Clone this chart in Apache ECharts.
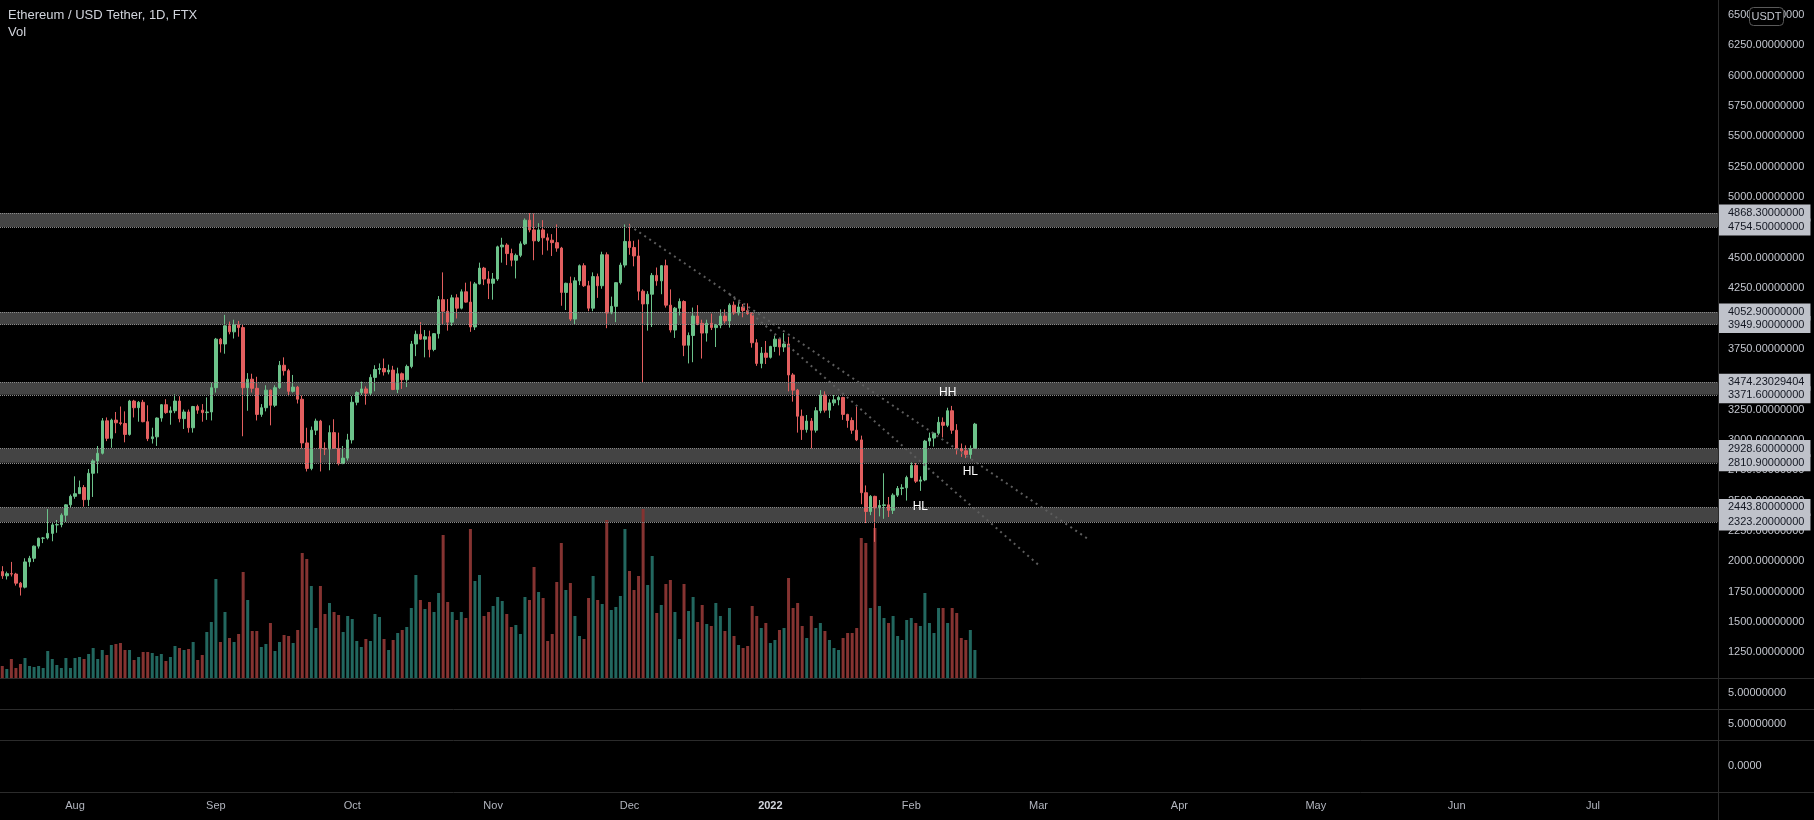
<!DOCTYPE html>
<html><head><meta charset="utf-8">
<script src="https://cdn.jsdelivr.net/npm/echarts@6/dist/echarts.min.js"></script>
<style>html,body{margin:0;padding:0;background:#000;overflow:hidden}#c{width:1814px;height:820px}</style>
</head><body><div id="c"></div>
<script>
// ---- data ----
const startDay = '2021-07-16';
const dayCount = 378;
const monthLabels = ['2022','Feb','Mar','Apr','May','Jun','Jul','Aug','Sep','Oct','Nov','Dec'];
// [open, high, low, close] from 2021-07-16 daily
const candles = [
[1915,1960,1855,1880],[1880,1915,1850,1898],[1898,1995,1875,1895],[1895,1905,1800,1820],[1820,1830,1718,1787],
[1787,2025,1777,1995],[1995,2045,1955,2025],[2025,2130,1995,2125],[2125,2195,2105,2190],[2190,2200,2150,2192],
[2192,2430,2180,2230],[2230,2315,2165,2300],[2300,2340,2235,2302],[2302,2395,2280,2380],[2380,2470,2325,2465],
[2465,2550,2440,2535],[2535,2700,2515,2557],[2557,2665,2555,2608],[2608,2628,2450,2508],[2508,2760,2455,2725],
[2725,2840,2530,2827],[2827,2950,2725,2890],[2890,3180,2880,3157],[3157,3185,2990,3013],[3013,3175,2935,3163],
[3163,3230,3055,3141],[3141,3275,3120,3135],[3135,3235,2980,3045],[3045,3330,3035,3320],[3320,3330,3185,3265],
[3265,3320,3150,3310],[3310,3330,3145,3150],[3150,3285,2990,3010],[3010,3100,2970,3025],[3025,3185,2950,3180],
[3180,3295,3150,3290],[3290,3335,3215,3225],[3225,3275,3125,3240],[3240,3375,3220,3320],[3320,3360,3145,3175],
[3175,3250,3090,3230],[3230,3250,3060,3100],[3100,3280,3060,3275],[3275,3290,3215,3245],[3245,3295,3150,3225],
[3225,3350,3165,3230],[3230,3470,3160,3430],[3430,3840,3390,3830],[3830,3840,3720,3790],[3790,4030,3710,3940],
[3940,3975,3870,3890],[3890,3990,3835,3950],[3950,3980,3850,3925],[3925,3950,3030,3430],[3430,3550,3240,3500],
[3500,3545,3390,3425],[3425,3520,3160,3210],[3210,3295,3190,3265],[3265,3450,3235,3410],[3410,3415,3120,3285],
[3285,3450,3270,3430],[3430,3650,3420,3615],[3615,3680,3530,3570],[3570,3585,3360,3400],[3400,3535,3390,3435],
[3435,3445,3300,3335],[3335,3365,2930,2975],[2975,3100,2740,2765],[2765,3110,2750,3080],[3080,3175,3040,3155],
[3155,3165,2740,2930],[2930,2980,2875,2925],[2925,3120,2750,3060],[3060,3170,2925,2930],[2930,3060,2790,2805],
[2805,2950,2800,2850],[2850,3050,2830,3000],[3000,3360,2970,3310],[3310,3400,3285,3390],[3390,3480,3370,3420],
[3420,3440,3290,3385],[3385,3540,3370,3515],[3515,3615,3400,3580],[3580,3630,3540,3588],[3588,3670,3530,3560],
[3560,3620,3540,3575],[3575,3610,3410,3415],[3415,3595,3385,3545],[3545,3555,3420,3495],[3495,3620,3435,3605],
[3605,3815,3590,3790],[3790,3900,3690,3870],[3870,3970,3825,3830],[3830,3905,3680,3850],[3850,3900,3680,3745],
[3745,3880,3730,3875],[3875,4185,3835,4155],[4155,4380,3950,4060],[4060,4160,3900,3970],[3970,4195,3940,4170],
[4170,4200,4000,4085],[4085,4240,4075,4220],[4220,4295,4130,4135],[4135,4305,3890,3930],[3930,4300,3905,4285],
[4285,4460,4280,4415],[4415,4425,4275,4325],[4325,4390,4160,4290],[4290,4375,4155,4325],[4325,4600,4310,4590],
[4590,4665,4460,4605],[4605,4620,4440,4535],[4535,4575,4430,4480],[4480,4535,4330,4520],[4520,4635,4505,4615],
[4615,4825,4605,4810],[4810,4868,4710,4730],[4730,4865,4480,4640],[4640,4785,4630,4730],[4730,4810,4525,4665],
[4665,4700,4560,4645],[4645,4695,4515,4625],[4625,4775,4550,4580],[4580,4590,4105,4215],[4215,4295,4070,4290],
[4290,4345,3980,3995],[3995,4340,3955,4310],[4310,4445,4275,4435],[4435,4455,4260,4270],[4270,4310,4060,4085],
[4085,4380,4060,4345],[4345,4370,4170,4270],[4270,4550,4245,4525],[4525,4545,3920,4045],[4045,4180,4035,4100],
[4100,4300,3970,4295],[4295,4460,4280,4440],[4440,4775,4420,4635],[4635,4780,4525,4585],[4585,4640,4430,4515],
[4515,4650,4150,4225],[4225,4240,3470,4120],[4120,4225,3900,4200],[4200,4375,3930,4355],[4355,4420,4270,4310],
[4310,4440,4200,4435],[4435,4485,4090,4110],[4110,4240,3885,3905],[3905,4095,3840,4085],[4085,4165,4025,4140],
[4140,4150,3690,3780],[3780,3885,3630,3860],[3860,4090,3640,4020],[4020,4110,3945,3960],[3960,3990,3670,3880],
[3880,3990,3810,3960],[3960,4040,3905,3925],[3925,3955,3765,3945],[3945,4075,3920,4020],[4020,4075,3960,3980],
[3980,4125,3925,4110],[4110,4140,4030,4045],[4045,4140,4025,4095],[4095,4120,4010,4065],[4065,4125,4030,4040],
[4040,4050,3760,3800],[3800,3830,3610,3630],[3630,3765,3590,3715],[3715,3815,3625,3680],[3680,3775,3670,3770],
[3770,3860,3725,3830],[3830,3840,3695,3765],[3765,3880,3725,3790],[3790,3850,3400,3535],[3535,3550,3315,3410],
[3410,3420,3060,3195],[3195,3250,3000,3085],[3085,3205,3060,3155],[3155,3180,2930,3080],[3080,3270,3060,3240],
[3240,3410,3220,3370],[3370,3400,3225,3245],[3245,3335,3180,3305],[3305,3370,3280,3330],[3330,3365,3285,3350],
[3350,3355,3165,3210],[3210,3215,3100,3160],[3160,3185,3050,3080],[3080,3275,2990,3000],[3000,3035,2470,2565],
[2565,2625,2315,2410],[2410,2545,2380,2535],[2535,2540,2160,2440],[2440,2505,2370,2460],[2460,2725,2350,2465],
[2465,2530,2365,2420],[2420,2560,2390,2545],[2545,2620,2530,2600],[2600,2635,2545,2605],[2605,2705,2500,2690],
[2690,2815,2685,2790],[2790,2810,2645,2660],[2660,2700,2580,2670],[2670,3000,2660,2990],[2990,3060,2950,3015],
[3015,3060,2945,3055],[3055,3190,3040,3145],[3145,3185,3020,3120],[3120,3265,3105,3240],[3240,3280,3050,3080],
[3080,3130,2880,2925],[2925,2970,2860,2910],[2910,2955,2850,2880],[2880,2955,2845,2930],[2930,3140,2925,3130]
];
const volumes = [
12,9,19,10,14,20,12,11,12,10,27,19,13,10,20,10,20,21,19,24,30,19,28,23,33,34,35,28,28,18,21,26,26,25,22,24,17,21,32,30,28,29,36,18,23,46,56,99,36,66,40,36,44,106,78,
47,47,31,34,55,27,36,43,42,35,48,125,119,92,50,92,64,75,66,63,46,62,59,37,31,39,37,64,61,39,28,38,45,48,51,70,103,78,69,76,66,85,143,76,66,58,66,60,149,97,103,62,66,72,81,
77,64,51,53,44,81,78,111,86,80,37,44,96,135,88,95,62,42,39,80,102,78,74,158,68,71,82,149,107,88,102,169,93,122,65,73,94,98,66,39,94,67,81,56,73,54,52,75,62,47,70,42,33,30,32,
72,62,50,55,35,38,48,50,100,70,75,52,40,62,50,55,47,38,30,28,40,45,45,50,140,135,70,150,72,60,55,62,42,38,58,60,55,52,85,55,45,70,70,55,70,65,40,38,48,28
];
// support / resistance zones [low, high, lowLabel, highLabel]
const zones = [
[4754.5, 4868.3, '4754.50000000', '4868.30000000'],
[3949.9, 4052.9, '3949.90000000', '4052.90000000'],
[3371.6, 3474.23029404, '3371.60000000', '3474.23029404'],
[2810.9, 2928.6, '2810.90000000', '2928.60000000'],
[2323.2, 2443.8, '2323.20000000', '2443.80000000']
];
// trend lines [startDate, startPrice, endDate, endPrice]
const trendLines = [
['2021-12-01', 4765, '2022-03-12', 2181],
['2021-12-23', 4200, '2022-03-01', 1970]
];
// annotations [date, price, text]
const notes = [
['2022-02-09', 3386, 'HH'],
['2022-02-03', 2447, 'HL'],
['2022-02-14', 2736, 'HL']
];
const paneLabels = ['5.00000000', '5.00000000', '0.0000'];

// ---- build ----
const dates = [];
const t0 = Date.parse(startDay + 'T00:00:00Z');
for (let i = 0; i < dayCount; i++) dates.push(new Date(t0 + i * 86400000).toISOString().slice(0, 10));

const UP = '#6cc28a', DOWN = '#e35f5f', VUP = '#22675f', VDOWN = '#853331';
const AX = '#c3c6ce', LINE = '#2b2b2b';
const FONT = '"Liberation Sans", Arial, sans-serif';

const markLines = [];
zones.forEach(z => {
  [[z[1], z[3]], [z[0], z[2]]].forEach(([v, txt]) => {
    markLines.push({
      yAxis: v,
      lineStyle: { type: 'dotted', color: '#8a8a8a', width: 1 },
      label: { show: true, position: 'end', distance: 0, formatter: txt, color: '#131722',
        backgroundColor: '#bfc2ca', padding: [2, 6, 2, 10], fontSize: 11, lineHeight: 13, fontFamily: FONT }
    });
  });
});
trendLines.forEach(t => {
  markLines.push([
    { coord: [t[0], t[1]], lineStyle: { type: [2, 4], color: '#5c5c5c', width: 2 }, label: { show: false } },
    { coord: [t[2], t[3]] }
  ]);
});

const chart = echarts.init(document.getElementById('c'), null, { renderer: 'canvas' });
const xBase = { type: 'category', data: dates, boundaryGap: true, axisLine: { show: false }, axisTick: { show: false }, splitLine: { show: false } };

chart.setOption({
  backgroundColor: '#000000',
  animation: false,
  grid: [
    { left: 0, right: 96, top: -15.35, height: 698.05, outerBoundsMode: 'none', containLabel: false },
    { left: 0, right: 96, top: 509, height: 169, outerBoundsMode: 'none', containLabel: false },
    { left: 0, right: 96, top: 740, height: 52, outerBoundsMode: 'none', containLabel: false }
  ],
  xAxis: [
    Object.assign({}, xBase, { gridIndex: 0, axisLabel: { show: false } }),
    Object.assign({}, xBase, { gridIndex: 1, axisLabel: { show: false } }),
    Object.assign({}, xBase, { gridIndex: 2, axisLabel: {
      show: true, interval: (i, v) => v.slice(8) === '01', margin: 8,
      color: '#b2b5be', fontSize: 11, fontFamily: FONT,
      formatter: v => { const m = +v.slice(5, 7); return m === 1 ? '{b|' + monthLabels[0] + '}' : monthLabels[m - 1]; },
      rich: { b: { fontWeight: 'bold', color: '#d1d4dc', fontSize: 11, fontFamily: FONT } }
    } })
  ],
  yAxis: [
    { gridIndex: 0, type: 'value', position: 'right', min: 1000, max: 6750, interval: 250,
      axisLine: { show: false }, axisTick: { show: false }, splitLine: { show: false },
      axisLabel: { margin: 10, color: AX, fontSize: 11, fontFamily: FONT,
        formatter: v => (v < 1250 || v > 6500) ? '' : v.toFixed(8) } },
    { gridIndex: 1, type: 'value', min: 0, max: 169, show: false },
    { gridIndex: 2, type: 'value', show: false }
  ],
  series: [
    { type: 'bar', xAxisIndex: 1, yAxisIndex: 1, barWidth: 3, z: 1,
      data: volumes.map((v, i) => ({ value: v, itemStyle: { color: candles[i][3] >= candles[i][0] ? VUP : VDOWN } })) },
    { type: 'candlestick', xAxisIndex: 0, yAxisIndex: 0, barWidth: 3, clip: false, z: 3,
      itemStyle: { color: UP, color0: DOWN, borderColor: UP, borderColor0: DOWN, borderWidth: 1 },
      data: candles.map(r => [r[0], r[3], r[2], r[1]]),
      markArea: { silent: true, itemStyle: { color: '#444444' },
        data: zones.map(z => [{ yAxis: z[0] }, { yAxis: z[1] }]) },
      markLine: { silent: true, symbol: ['none', 'none'], animation: false, data: markLines },
      markPoint: { silent: true, symbol: 'circle', symbolSize: 1, itemStyle: { color: 'rgba(0,0,0,0)' },
        label: { show: true, position: 'inside', color: '#ffffff', fontSize: 12, fontFamily: FONT, formatter: p => p.name },
        data: notes.map(n => ({ name: n[2], coord: [n[0], n[1]] })) }
    },
    { type: 'line', xAxisIndex: 2, yAxisIndex: 2, data: [] }
  ],
  graphic: [
    { type: 'text', left: 8, top: 9, style: { text: 'Ethereum / USD Tether, 1D, FTX', fill: '#d1d4dc', font: '13px ' + FONT } },
    { type: 'text', left: 8, top: 26, style: { text: 'Vol', fill: '#d1d4dc', font: '13px ' + FONT } },
    { type: 'line', shape: { x1: 1718.5, y1: 0, x2: 1718.5, y2: 820 }, style: { stroke: LINE, lineWidth: 1 }, z: 10 },
    { type: 'line', shape: { x1: 0, y1: 678.5, x2: 1814, y2: 678.5 }, style: { stroke: LINE, lineWidth: 1 }, z: 10 },
    { type: 'line', shape: { x1: 0, y1: 709.5, x2: 1814, y2: 709.5 }, style: { stroke: LINE, lineWidth: 1 }, z: 10 },
    { type: 'line', shape: { x1: 0, y1: 740.5, x2: 1814, y2: 740.5 }, style: { stroke: LINE, lineWidth: 1 }, z: 10 },
    { type: 'line', shape: { x1: 0, y1: 792.5, x2: 1814, y2: 792.5 }, style: { stroke: LINE, lineWidth: 1 }, z: 10 },
    { type: 'text', x: 1728, y: 693, style: { text: paneLabels[0], fill: AX, font: '11px ' + FONT, textVerticalAlign: 'middle' }, z: 10 },
    { type: 'text', x: 1728, y: 724, style: { text: paneLabels[1], fill: AX, font: '11px ' + FONT, textVerticalAlign: 'middle' }, z: 10 },
    { type: 'text', x: 1728, y: 766, style: { text: paneLabels[2], fill: AX, font: '11px ' + FONT, textVerticalAlign: 'middle' }, z: 10 },
    { type: 'rect', shape: { x: 1749.5, y: 7.5, width: 34, height: 18, r: 4 }, style: { fill: '#000', stroke: '#5a5a5a', lineWidth: 1 }, z: 20 },
    { type: 'text', x: 1766.5, y: 16.5, style: { text: 'USDT', fill: AX, font: '11px ' + FONT, textAlign: 'center', textVerticalAlign: 'middle' }, z: 21 }
  ]
});
</script></body></html>
